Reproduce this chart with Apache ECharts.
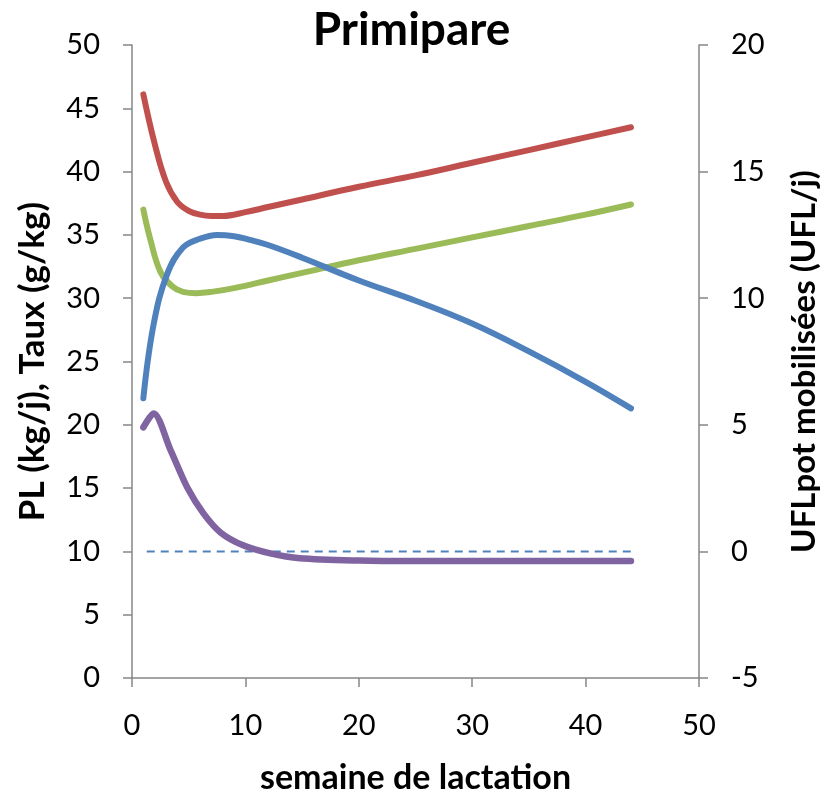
<!DOCTYPE html>
<html>
<head>
<meta charset="utf-8">
<script src="https://cdn.jsdelivr.net/npm/echarts@6/dist/echarts.min.js"></script>
<style>
  html, body { margin: 0; padding: 0; background: #fff; }
  #main { width: 823px; height: 793px; }
</style>
</head>
<body>
<div id="main"></div>
<script>
// semaines
var semRouge = [1, 2, 3, 4, 5, 6, 7, 8, 10, 12, 15, 20, 25, 30, 35, 40, 44];
var rouge    = [46.1, 42.2, 39.2, 37.6, 36.9, 36.6, 36.5, 36.5, 36.8, 37.2, 37.8, 38.8, 39.7, 40.7, 41.7, 42.7, 43.5];

var semVert = [1, 1.6, 2.5, 3.6, 4.5, 5.7, 7, 9, 12, 15, 20, 25, 30, 35, 40, 44];
var vert    = [37.0, 34.7, 32.1, 30.9, 30.5, 30.4, 30.5, 30.8, 31.4, 32.0, 33.0, 33.9, 34.8, 35.7, 36.6, 37.4];

var semBleu = [1, 1.9, 3.1, 4.5, 6, 7.5, 9, 10.4, 12, 15, 20, 25, 30, 35, 40, 44];
var bleu    = [22.1, 27.9, 31.9, 34.0, 34.7, 35.0, 34.9, 34.6, 34.2, 33.2, 31.4, 29.8, 28.0, 25.8, 23.4, 21.3];

// UFLpot mobilisées (axe de droite)
var semViolet = [1, 1.9, 3.4, 4.9, 6.3, 7.8, 9.8, 12.2, 14.8, 20, 25, 30, 35, 40, 44];
var violet    = [4.9, 5.45, 4.0, 2.5, 1.5, 0.75, 0.24, -0.08, -0.27, -0.36, -0.38, -0.38, -0.38, -0.38, -0.38];

var semZero = [1.3, 44];
var zero    = [0, 0];

function paires(xs, ys) {
    var out = [];
    for (var i = 0; i < xs.length; i++) {
        out.push([xs[i], ys[i]]);
    }
    return out;
}

var police = 'Lato, "Open Sans", sans-serif';
var gris = '#868686';

var myChart = echarts.init(document.getElementById('main'));
var option = {
    animation: false,
    backgroundColor: '#fff',
    title: {
        text: 'Primipare',
        left: 'center',
        top: 2,
        textStyle: { fontFamily: police, fontSize: 46, fontWeight: 'bold', color: '#000' }
    },
    grid: { left: 132, right: 124, top: 45, bottom: 115, containLabel: false, outerBoundsMode: 'none' },
    xAxis: {
        type: 'value',
        min: 0, max: 50, interval: 10,
        name: 'semaine de lactation',
        nameLocation: 'middle',
        nameGap: 83,
        nameTextStyle: { fontFamily: police, fontSize: 34, fontWeight: 'bold', color: '#000' },
        axisLine: { lineStyle: { color: gris, width: 1.5 } },
        axisTick: { show: true, inside: false, length: 9, lineStyle: { color: gris, width: 1.5 } },
        axisLabel: { fontFamily: police, fontSize: 29, color: '#000', margin: 33 },
        splitLine: { show: false }
    },
    yAxis: [
        {
            type: 'value',
            min: 0, max: 50, interval: 5,
            name: 'PL (kg/j), Taux (g/kg)',
            nameLocation: 'middle',
            nameGap: 82,
            nameRotate: 90,
            nameTextStyle: { fontFamily: police, fontSize: 35, fontWeight: 'bold', color: '#000' },
            axisLine: { show: true, lineStyle: { color: gris, width: 1.5 } },
            axisTick: { show: true, inside: false, length: 9, lineStyle: { color: gris, width: 1.5 } },
            axisLabel: { fontFamily: police, fontSize: 29, color: '#000', margin: 32 },
            splitLine: { show: false }
        },
        {
            type: 'value',
            min: -5, max: 20, interval: 5,
            position: 'right',
            name: 'UFLpot mobilisées (UFL/j)',
            nameLocation: 'middle',
            nameGap: 89,
            nameRotate: 90,
            nameTextStyle: { fontFamily: police, fontSize: 33, fontWeight: 'bold', color: '#000' },
            axisLine: { show: true, lineStyle: { color: gris, width: 1.5 } },
            axisTick: { show: true, inside: false, length: 9, lineStyle: { color: gris, width: 1.5 } },
            axisLabel: { fontFamily: police, fontSize: 29, color: '#000', margin: 32 },
            splitLine: { show: false }
        }
    ],
    series: [
        {
            name: 'TB', type: 'line', yAxisIndex: 0, smooth: 0.4, showSymbol: false,
            data: paires(semRouge, rouge),
            lineStyle: { color: '#C0504D', width: 6, cap: 'round' }
        },
        {
            name: 'TP', type: 'line', yAxisIndex: 0, smooth: 0.4, showSymbol: false,
            data: paires(semVert, vert),
            lineStyle: { color: '#9BBB59', width: 6, cap: 'round' }
        },
        {
            name: 'PL', type: 'line', yAxisIndex: 0, smooth: 0.4, showSymbol: false,
            data: paires(semBleu, bleu),
            lineStyle: { color: '#4F81BD', width: 6, cap: 'round' }
        },
        {
            name: 'zero', type: 'line', yAxisIndex: 1, showSymbol: false,
            data: paires(semZero, zero),
            lineStyle: { color: '#4F81BD', width: 2, type: [8, 6] }
        },
        {
            name: 'UFLpot', type: 'line', yAxisIndex: 1, smooth: 0.3, showSymbol: false,
            data: paires(semViolet, violet),
            lineStyle: { color: '#8064A2', width: 6.5, cap: 'round', join: 'round' }
        }
    ]
};
myChart.setOption(option);
</script>
</body>
</html>
